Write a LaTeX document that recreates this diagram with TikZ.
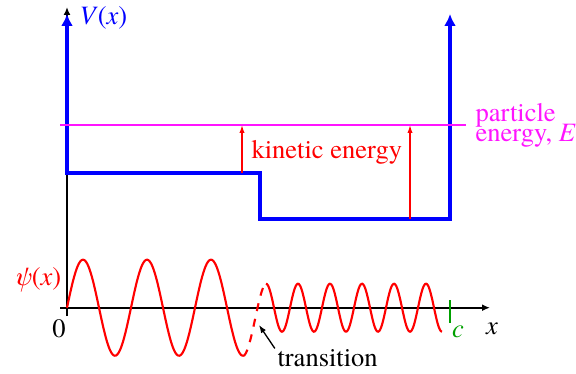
\documentclass[tikz,border=0pt]{standalone}
\usepackage{fontspec}
\setmainfont{texgyretermes}[Extension=.otf, UprightFont=*-regular,
    ItalicFont=*-italic, BoldFont=*-bold, BoldItalicFont=*-bolditalic]
\usetikzlibrary{arrows.meta,positioning}

\definecolor{potcol}{RGB}{0,0,255}
\definecolor{energycol}{RGB}{255,20,255}
\definecolor{wavecol}{RGB}{255,0,0}
\definecolor{edgecol}{RGB}{0,160,0}

\begin{document}
\begin{tikzpicture}[>=Latex, x=0.377pt, y=-0.377pt,
    axisline/.style={line width=0.6pt, -{Latex[length=3pt,width=2.6pt]}},
    potline/.style={potcol, line width=1.6pt, line join=miter,
        {Latex[length=4.5pt,width=4.5pt]}-{Latex[length=4.5pt,width=4.5pt]}},
    kearrow/.style={wavecol, line width=0.5pt, -{Latex[length=3pt,width=2pt]}},
    wave/.style={wavecol, line width=0.8pt},
    lbl/.style={inner sep=0pt, font=\fontsize{10}{12}\selectfont}]

    \useasboundingbox (0,0) rectangle (576,373);

    % Parameters
    \def\xo{67}       % x = 0
    \def\yo{307.7}    % psi = 0
    \def\Elev{125}    % particle energy
    \def\Vone{173}    % first step
    \def\Vtwo{219}    % second step
    \def\xs{260}      % position of step
    \def\xc{450}      % x = c

    % Axes
    \draw[axisline] (60,\yo) -- (490,\yo);
    \draw[axisline] (\xo,316) -- (\xo,7);

    % Potential V(x)
    \draw[potline] (\xo,14) -- (\xo,\Vone) -- (\xs,\Vone) -- (\xs,\Vtwo)
        -- (\xc,\Vtwo) -- (\xc,14);

    % Particle energy
    \draw[energycol, line width=0.5pt] (60,\Elev) -- (466,\Elev);

    % Kinetic energy arrows
    \coordinate (keonebot) at (242,\Vone);
    \coordinate (keonetop) at (242,\Elev);
    \coordinate (ketwobot) at (410,\Vtwo);
    \coordinate (ketwotop) at (410,\Elev);
    \draw[kearrow] (keonebot) -- (keonetop);
    \draw[kearrow] (ketwobot) -- (ketwotop);

    % Wave function
    \draw[wave, domain=\xo:243, samples=200, smooth]
        plot (\x, {\yo - 48*sin(5.625*(\x-\xo))});
    \draw[wave, dashed] (243,356) .. controls (251,356) and (259,284) .. (266,284);
    \draw[wave, domain=266:442, samples=200, smooth]
        plot (\x, {\yo - 24*cos(11.25*(\x-266))});

    % Mark at x = c
    \draw[edgecol, line width=0.8pt] (\xc,300) -- (\xc,323);

    % Labels
    \node[lbl, anchor=base west, text=potcol] (vlabel) at (79,24) {\textit{V}(\textit{x})};
    \node[lbl, anchor=base west, text=wavecol] (psilabel) at (13,285) {\textit{ψ}(\textit{x})};
    \node[lbl, anchor=base west, text=wavecol] (kelabel) at (251,158) {kinetic energy};
    \node[lbl, align=left, anchor=north west, text=energycol] (elabel) at (475,103)
        {particle\\[-4.5pt]energy, \textit{E}};
    \node[lbl, anchor=base] (zerolabel) at (59,337) {0};
    \node[lbl, anchor=base] (xlabel) at (492,334) {\textit{x}};
    \node[lbl, anchor=base, text=edgecol] (clabel) at (458,337) {\textit{c}};
    \node[lbl, anchor=base west] (trlabel) at (277,366) {transition};

    % Arrow to transition
    \coordinate (trtip) at (259,325);
    \draw[line width=0.5pt, -{Latex[length=3pt,width=2.2pt]}] ([xshift=-0.8pt]trlabel.north west) -- (trtip);

\end{tikzpicture}
\end{document}
